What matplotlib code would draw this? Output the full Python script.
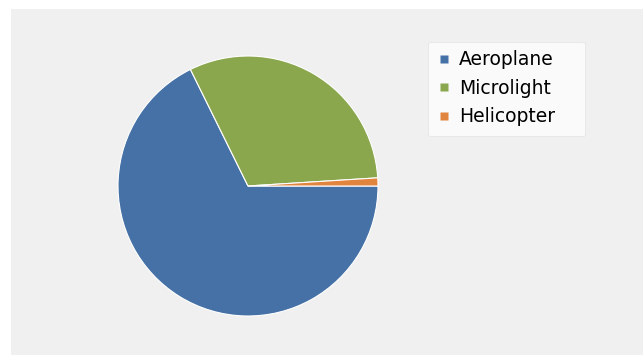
import matplotlib.pyplot as plt
from matplotlib.patches import Rectangle, FancyBboxPatch
from matplotlib.lines import Line2D

labels = ['Aeroplane', 'Microlight', 'Helicopter']
values = [67.7, 31.3, 1.0]
colors = ['#4571a6', '#8aa74e', '#e0843e']

W, H = 643, 355
fig = plt.figure(figsize=(6.43, 3.55), dpi=100)
fig.patch.set_facecolor('white')
# grey panel behind the chart
fig.patches.append(Rectangle((11/W, 0), 1 - 11/W, 1 - 9/H,
                             transform=fig.transFigure, facecolor='#f0f0f0',
                             edgecolor='none', zorder=-10))
# legend box drawn by hand (wider than matplotlib's own frame)
fig.patches.append(FancyBboxPatch((431/W, 1 - 135/H), 152/W, 91/H,
                                  boxstyle='round,pad=0.004',
                                  transform=fig.transFigure,
                                  facecolor='#fafafa', edgecolor='#e6e6e6',
                                  linewidth=0.6, zorder=-5))

ax = fig.add_axes([118/W, 39/H, 260/W, 260/H])
wedges, _ = ax.pie(values, colors=colors, startangle=0, counterclock=False,
                   wedgeprops=dict(edgecolor='white', linewidth=0.8))
ax.set_xlim(-1, 1)
ax.set_ylim(-1, 1)
ax.set_aspect('equal')

handles = [Line2D([], [], marker='s', linestyle='none', markersize=5.8,
                  markerfacecolor=c, markeredgecolor='none') for c in colors]
leg = fig.legend(handles, labels, loc='upper left',
                 bbox_to_anchor=(428/W, 1 - 40/H),
                 fontsize=13.5, frameon=False,
                 handlelength=0.6, handletextpad=0.5,
                 labelspacing=0.5, borderpad=0.55, borderaxespad=0)

plt.savefig('out.png', dpi=100)
